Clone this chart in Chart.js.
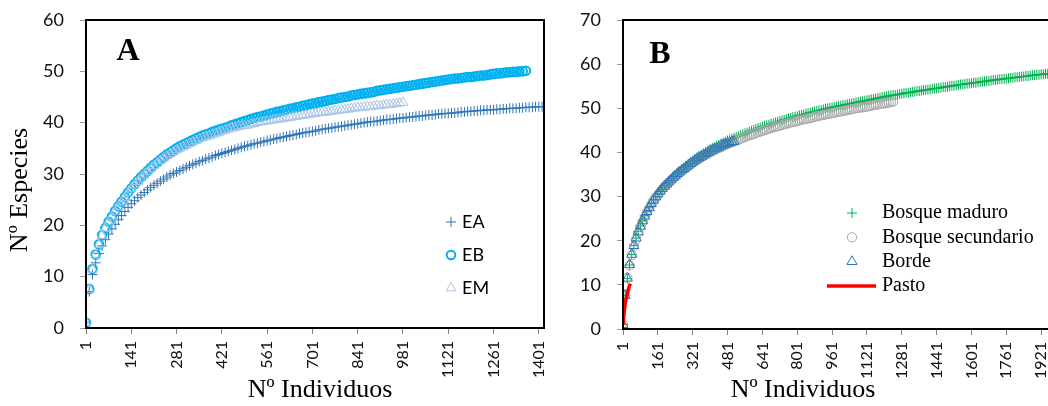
<!DOCTYPE html>
<html lang="es">
<head>
<meta charset="utf-8">
<title>Curvas de rarefacción</title>
<script src="https://cdn.jsdelivr.net/npm/chart.js@4.4.1/dist/chart.umd.min.js"></script>
<style>
  html, body { margin: 0; padding: 0; background: #fff; overflow: hidden; }
  body { width: 1048px; height: 406px; position: relative; }
  .panel { position: absolute; top: 0; height: 406px; }
  #panelA { left: 0; width: 560px; }
  #panelB { left: 560px; width: 526px; }
</style>
</head>
<body>
<div class="panel" id="panelA"><canvas id="chartA"></canvas></div>
<div class="panel" id="panelB"><canvas id="chartB"></canvas></div>
<script>
(function () {
  'use strict';

  // every curve is sampled each 10 individuals, starting at 1
  const SAMPLE_STEP = 10;

  // ---- Panel A ----
  const ticksIndivA = [1, 141, 281, 421, 561, 701, 841, 981, 1121, 1261, 1401];
  const ticksSpeciesA = [0, 10, 20, 30, 40, 50, 60];

  const speciesEA = [
    1.0, 7.1, 10.4, 12.7, 14.5, 16.0, 17.2, 18.3, 19.3, 20.2,
    21.1, 21.9, 22.7, 23.5, 24.2, 24.8, 25.4, 25.9, 26.4, 26.9,
    27.4, 27.8, 28.2, 28.6, 29.0, 29.4, 29.8, 30.1, 30.4, 30.7,
    31.0, 31.3, 31.6, 31.9, 32.1, 32.4, 32.6, 32.9, 33.1, 33.3,
    33.6, 33.8, 34.0, 34.2, 34.4, 34.6, 34.8, 35.0, 35.2, 35.4,
    35.5, 35.7, 35.9, 36.0, 36.2, 36.3, 36.5, 36.6, 36.8, 36.9,
    37.1, 37.2, 37.3, 37.5, 37.6, 37.7, 37.9, 38.0, 38.1, 38.2,
    38.3, 38.4, 38.6, 38.7, 38.8, 38.9, 39.0, 39.1, 39.2, 39.3,
    39.4, 39.5, 39.6, 39.7, 39.8, 39.9, 40.0, 40.1, 40.2, 40.2,
    40.3, 40.4, 40.5, 40.6, 40.6, 40.7, 40.8, 40.9, 40.9, 41.0,
    41.1, 41.1, 41.2, 41.3, 41.3, 41.4, 41.5, 41.5, 41.6, 41.7,
    41.7, 41.8, 41.8, 41.9, 41.9, 42.0, 42.1, 42.1, 42.2, 42.2,
    42.3, 42.3, 42.4, 42.4, 42.5, 42.5, 42.5, 42.6, 42.6, 42.7,
    42.7, 42.8, 42.8, 42.8, 42.9, 42.9, 43.0, 43.0, 43.0, 43.1,
    43.1, 43.1
  ];

  const speciesEB = [
    1.0, 7.6, 11.5, 14.3, 16.3, 18.1, 19.5, 20.7, 21.7, 22.8,
    23.7, 24.6, 25.5, 26.4, 27.2, 28.0, 28.7, 29.4, 30.0, 30.6,
    31.2, 31.8, 32.3, 32.8, 33.3, 33.8, 34.2, 34.6, 35.0, 35.4,
    35.7, 36.0, 36.3, 36.6, 36.9, 37.2, 37.5, 37.7, 37.9, 38.2,
    38.4, 38.6, 38.8, 39.0, 39.2, 39.5, 39.7, 39.9, 40.1, 40.3,
    40.5, 40.7, 40.9, 41.1, 41.2, 41.4, 41.6, 41.8, 41.9, 42.1,
    42.2, 42.4, 42.5, 42.7, 42.8, 43.0, 43.1, 43.3, 43.4, 43.6,
    43.7, 43.8, 44.0, 44.1, 44.2, 44.4, 44.5, 44.6, 44.8, 44.9,
    45.0, 45.1, 45.3, 45.4, 45.5, 45.6, 45.7, 45.8, 45.9, 46.0,
    46.2, 46.3, 46.4, 46.5, 46.6, 46.7, 46.8, 46.9, 47.0, 47.1,
    47.2, 47.3, 47.4, 47.5, 47.6, 47.7, 47.8, 47.9, 48.0, 48.1,
    48.2, 48.3, 48.4, 48.5, 48.6, 48.6, 48.7, 48.8, 48.9, 48.9,
    49.0, 49.1, 49.2, 49.2, 49.3, 49.4, 49.5, 49.6, 49.6, 49.7,
    49.8, 49.8, 49.9, 49.9, 50.0, 50.0, 50.1
  ];

  const speciesEM = [
    1.0, 7.5, 11.4, 14.2, 16.2, 18.0, 19.4, 20.6, 21.6, 22.7,
    23.6, 24.5, 25.4, 26.3, 27.1, 27.8, 28.5, 29.2, 29.8, 30.4,
    31.0, 31.6, 32.1, 32.6, 33.1, 33.5, 33.9, 34.3, 34.7, 35.0,
    35.3, 35.6, 35.9, 36.2, 36.5, 36.8, 37.0, 37.2, 37.4, 37.6,
    37.8, 38.0, 38.3, 38.5, 38.7, 38.9, 39.0, 39.2, 39.3, 39.4,
    39.5, 39.7, 39.8, 40.0, 40.1, 40.2, 40.3, 40.4, 40.5, 40.6,
    40.7, 40.8, 40.9, 41.0, 41.1, 41.2, 41.3, 41.4, 41.5, 41.6,
    41.7, 41.8, 41.9, 42.0, 42.0, 42.1, 42.2, 42.3, 42.4, 42.5,
    42.5, 42.6, 42.7, 42.8, 42.9, 42.9, 43.0, 43.1, 43.1, 43.2,
    43.3, 43.3, 43.4, 43.5, 43.5, 43.6, 43.7, 43.8, 43.9
  ];

  // ---- Panel B ----
  const ticksIndivB = [1, 161, 321, 481, 641, 801, 961, 1121, 1281, 1441, 1601, 1761, 1921, 2081];
  const ticksSpeciesB = [0, 10, 20, 30, 40, 50, 60, 70];

  const speciesMaduro = [
    1.0, 7.6, 11.4, 14.5, 16.9, 18.9, 20.6, 22.1, 23.4, 24.6,
    25.7, 26.7, 27.6, 28.5, 29.3, 30.0, 30.7, 31.3, 31.9, 32.5,
    33.0, 33.5, 34.0, 34.5, 34.9, 35.4, 35.8, 36.2, 36.6, 37.0,
    37.4, 37.8, 38.1, 38.5, 38.9, 39.2, 39.5, 39.8, 40.1, 40.4,
    40.7, 41.0, 41.2, 41.5, 41.7, 42.0, 42.2, 42.4, 42.7, 42.9,
    43.1, 43.3, 43.5, 43.7, 43.9, 44.1, 44.3, 44.5, 44.7, 44.9,
    45.1, 45.3, 45.5, 45.6, 45.8, 46.0, 46.1, 46.3, 46.5, 46.6,
    46.8, 46.9, 47.1, 47.2, 47.4, 47.5, 47.7, 47.8, 48.0, 48.1,
    48.2, 48.4, 48.5, 48.6, 48.8, 48.9, 49.0, 49.1, 49.3, 49.4,
    49.5, 49.6, 49.7, 49.9, 50.0, 50.1, 50.2, 50.3, 50.4, 50.5,
    50.6, 50.7, 50.8, 50.9, 51.0, 51.1, 51.2, 51.3, 51.4, 51.5,
    51.6, 51.7, 51.8, 51.9, 52.0, 52.1, 52.2, 52.3, 52.4, 52.5,
    52.6, 52.7, 52.8, 52.9, 53.0, 53.0, 53.1, 53.2, 53.3, 53.4,
    53.5, 53.5, 53.6, 53.7, 53.8, 53.9, 53.9, 54.0, 54.1, 54.2,
    54.2, 54.3, 54.4, 54.5, 54.5, 54.6, 54.7, 54.8, 54.8, 54.9,
    55.0, 55.1, 55.1, 55.2, 55.3, 55.4, 55.4, 55.5, 55.6, 55.6,
    55.7, 55.8, 55.8, 55.9, 56.0, 56.0, 56.1, 56.2, 56.2, 56.3,
    56.4, 56.4, 56.5, 56.6, 56.6, 56.7, 56.7, 56.8, 56.9, 56.9,
    57.0, 57.0, 57.1, 57.2, 57.2, 57.3, 57.3, 57.4, 57.5, 57.5,
    57.6, 57.6, 57.7, 57.7, 57.8, 57.8, 57.9, 57.9, 58.0, 58.0
  ];

  const speciesSecundario = [
    1.0, 7.8, 11.6, 14.4, 16.7, 18.7, 20.3, 21.8, 23.1, 24.3,
    25.4, 26.4, 27.3, 28.2, 29.0, 29.7, 30.4, 31.0, 31.6, 32.2,
    32.7, 33.2, 33.7, 34.1, 34.5, 35.0, 35.4, 35.8, 36.2, 36.5,
    36.9, 37.3, 37.6, 38.0, 38.3, 38.6, 38.9, 39.2, 39.5, 39.8,
    40.0, 40.3, 40.5, 40.8, 41.0, 41.2, 41.5, 41.7, 41.9, 42.1,
    42.3, 42.5, 42.7, 42.9, 43.1, 43.3, 43.5, 43.7, 43.9, 44.0,
    44.2, 44.4, 44.6, 44.7, 44.9, 45.1, 45.2, 45.4, 45.5, 45.7,
    45.8, 45.9, 46.1, 46.2, 46.4, 46.5, 46.6, 46.8, 46.9, 47.0,
    47.1, 47.3, 47.4, 47.5, 47.6, 47.7, 47.8, 47.9, 48.1, 48.2,
    48.3, 48.4, 48.5, 48.6, 48.7, 48.8, 48.9, 49.0, 49.1, 49.2,
    49.3, 49.4, 49.5, 49.6, 49.7, 49.8, 49.9, 50.0, 50.1, 50.2,
    50.2, 50.3, 50.4, 50.5, 50.6, 50.7, 50.8, 50.9, 51.0, 51.1,
    51.1, 51.2, 51.3, 51.4, 51.5
  ];

  const speciesBorde = [
    1.0, 7.6, 11.5, 14.6, 16.9, 18.9, 20.6, 22.0, 23.3, 24.5,
    25.6, 26.6, 27.5, 28.4, 29.2, 29.9, 30.6, 31.2, 31.8, 32.3,
    32.8, 33.3, 33.8, 34.3, 34.7, 35.2, 35.6, 36.0, 36.3, 36.7,
    37.1, 37.5, 37.8, 38.2, 38.5, 38.8, 39.1, 39.4, 39.7, 40.0,
    40.3, 40.5, 40.8, 41.0, 41.2, 41.5, 41.7, 41.9, 42.1, 42.2,
    42.4, 42.5
  ];

  const pastoIndiv = [1, 6, 11, 16, 21, 26, 31, 35];
  const pastoSpecies = [1.0, 3.6, 5.6, 7.0, 8.1, 9.0, 9.8, 10.3];

  const SANS = 'Lato, "Open Sans", sans-serif';
  const SERIF = '"Liberation Serif", "Times New Roman", serif';

  function curve(values) {
    return values.map((y, i) => ({ x: 1 + i * SAMPLE_STEP, y }));
  }

  function drawMarker(ctx, style, x, y, r) {
    ctx.beginPath();
    if (style === 'cross') {
      ctx.moveTo(x - r, y); ctx.lineTo(x + r, y);
      ctx.moveTo(x, y - r); ctx.lineTo(x, y + r);
    } else if (style === 'circle') {
      ctx.arc(x, y, r, 0, Math.PI * 2);
    } else if (style === 'triangle') {
      ctx.moveTo(x, y - r);
      ctx.lineTo(x + r * 0.866, y + r * 0.5);
      ctx.lineTo(x - r * 0.866, y + r * 0.5);
      ctx.closePath();
    }
    ctx.stroke();
  }

  // black box round the plot area
  const frame = {
    id: 'frame',
    afterDatasetsDraw(chart) {
      const { ctx, chartArea: a } = chart;
      ctx.save();
      ctx.strokeStyle = '#000';
      ctx.lineWidth = 2;
      ctx.strokeRect(a.left, a.top, a.right - a.left, a.bottom - a.top);
      ctx.restore();
    }
  };

  // panel letter and axis titles
  function makeCaptions(items) {
    return {
      id: 'captions',
      afterDraw(chart) {
        const ctx = chart.ctx;
        items.forEach((t) => {
          ctx.save();
          ctx.font = t.font;
          ctx.fillStyle = '#000';
          ctx.textAlign = 'center';
          ctx.textBaseline = 'middle';
          ctx.translate(t.x, t.y);
          if (t.rotate) ctx.rotate(t.rotate);
          ctx.fillText(t.text, 0, 0);
          ctx.restore();
        });
      }
    };
  }

  // legend drawn inside the plot, one row per dataset
  function makeLegend(box) {
    return {
      id: 'insideLegend',
      afterDraw(chart) {
        const ctx = chart.ctx;
        ctx.save();
        ctx.font = box.font;
        ctx.textBaseline = 'middle';
        chart.data.datasets.forEach((ds, i) => {
          const y = box.top + i * box.gap;
          if (ds.showLine) {
            ctx.strokeStyle = ds.borderColor;
            ctx.lineWidth = ds.borderWidth;
            ctx.beginPath();
            ctx.moveTo(box.lineFrom, y);
            ctx.lineTo(box.lineTo, y);
            ctx.stroke();
          } else {
            ctx.strokeStyle = ds.pointBorderColor;
            ctx.lineWidth = ds.pointBorderWidth;
            drawMarker(ctx, ds.pointStyle, box.markerX, y, ds.pointRadius);
          }
          ctx.fillStyle = '#000';
          ctx.fillText(ds.label, box.textX, y);
        });
        ctx.restore();
      }
    };
  }

  // fixed axis sizes, so the plot area sits where the layout padding says
  function noLabelPadding(s) {
    s.paddingLeft = 0;
    s.paddingRight = 0;
    s.paddingTop = 0;
    s.paddingBottom = 0;
  }

  function indivAxis(ticks, max, height) {
    return {
      type: 'linear',
      min: 1,
      max: max,
      afterBuildTicks: (s) => { s.ticks = ticks.map((v) => ({ value: v })); },
      afterFit: (s) => { s.height = height; noLabelPadding(s); },
      border: { display: false },
      grid: { drawOnChartArea: false, drawTicks: true, tickLength: 6, color: '#808080' },
      ticks: {
        autoSkip: false,
        minRotation: 90,
        maxRotation: 90,
        padding: 7,
        color: '#111',
        font: { family: SANS, size: 16 },
        callback: (v) => String(v)
      }
    };
  }

  function speciesAxis(ticks, width) {
    return {
      min: ticks[0],
      max: ticks[ticks.length - 1],
      afterBuildTicks: (s) => { s.ticks = ticks.map((v) => ({ value: v })); },
      afterFit: (s) => { s.width = width; noLabelPadding(s); },
      border: { display: false },
      grid: { drawOnChartArea: false, drawTicks: true, tickLength: 6, color: '#9a9a9a' },
      ticks: { padding: 16, color: '#111', font: { family: SANS, size: 18 } }
    };
  }

  function markers(label, values, style, color, radius, width, order) {
    return {
      label: label,
      data: curve(values),
      pointStyle: style,
      pointRadius: radius,
      pointBorderWidth: width,
      pointBorderColor: color,
      pointBackgroundColor: 'rgba(0,0,0,0)',
      order: order
    };
  }

  const baseOptions = {
    responsive: true,
    maintainAspectRatio: false,
    animation: false,
    events: [],
    plugins: { legend: { display: false }, tooltip: { enabled: false } }
  };

  new Chart(document.getElementById('chartA'), {
    type: 'scatter',
    data: {
      datasets: [
        markers('EA', speciesEA, 'cross', '#2e75b6', 5, 1, 2),
        markers('EB', speciesEB, 'circle', '#00b0f0', 4.3, 2, 1),
        markers('EM', speciesEM, 'triangle', '#a9c4e5', 5.6, 1, 0)
      ]
    },
    options: Object.assign({}, baseOptions, {
      layout: { padding: { top: 20, right: 16, left: 0, bottom: 0 } },
      scales: {
        x: indivAxis(ticksIndivA, 1417, 78),
        y: speciesAxis(ticksSpeciesA, 86)
      }
    }),
    plugins: [
      frame,
      makeCaptions([
        { text: 'A', x: 128, y: 52, font: 'bold 32px ' + SERIF },
        { text: 'Nº Especies', x: 20, y: 190, rotate: -Math.PI / 2, font: '26px ' + SERIF },
        { text: 'Nº Individuos', x: 320, y: 390, font: '26px ' + SERIF }
      ]),
      makeLegend({ markerX: 451, textX: 462, top: 222, gap: 33, font: '18px ' + SANS })
    ]
  });

  new Chart(document.getElementById('chartB'), {
    type: 'scatter',
    data: {
      datasets: [
        markers('Bosque maduro', speciesMaduro, 'cross', '#00b050', 5, 1, 3),
        markers('Bosque secundario', speciesSecundario, 'circle', '#a6a6a6', 4.6, 1, 2),
        markers('Borde', speciesBorde, 'triangle', '#2e75b6', 5.8, 1, 1),
        {
          label: 'Pasto',
          data: pastoIndiv.map((x, i) => ({ x: x, y: pastoSpecies[i] })),
          showLine: true,
          borderColor: '#ff0000',
          borderWidth: 3.5,
          pointRadius: 0,
          cubicInterpolationMode: 'monotone',
          order: 0
        }
      ]
    },
    options: Object.assign({}, baseOptions, {
      layout: { padding: { top: 20, right: 10, left: 0, bottom: 0 } },
      scales: {
        x: indivAxis(ticksIndivB, 2081, 77),
        y: speciesAxis(ticksSpeciesB, 63)
      }
    }),
    plugins: [
      frame,
      makeCaptions([
        { text: 'B', x: 100, y: 55, font: 'bold 32px ' + SERIF },
        { text: 'Nº Individuos', x: 243, y: 390, font: '26px ' + SERIF }
      ]),
      makeLegend({ markerX: 292, textX: 322, top: 213, gap: 24.3, lineFrom: 267, lineTo: 316, font: '20px ' + SERIF })
    ]
  });
})();
</script>
</body>
</html>
